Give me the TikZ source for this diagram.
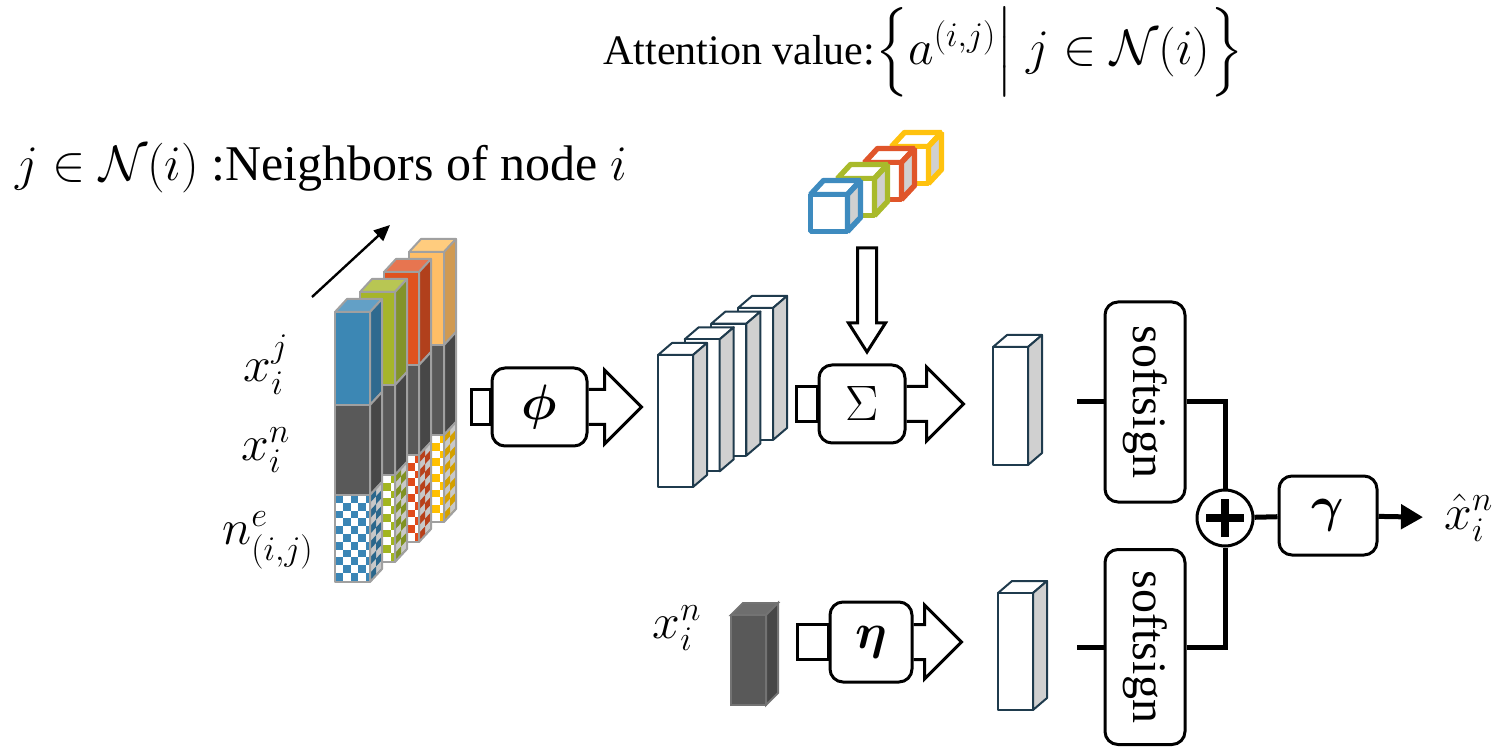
\documentclass[tikz,border=0pt]{standalone}
\usepackage{amsmath,bm}
\usepackage{fontspec}
\setmainfont{Liberation Serif}
\usetikzlibrary{arrows.meta,calc}
\pgfdeclarelayer{background}
\pgfsetlayers{background,main}

% stacked neighbour bars
\definecolor{bluefront}{HTML}{3C87B4}
\definecolor{blueside}{HTML}{2F6A8F}
\definecolor{bluetop}{HTML}{63A0C6}
\definecolor{bluechk}{HTML}{3A85B5}
\definecolor{bluechks}{HTML}{2A678C}
\definecolor{grnfront}{HTML}{A6B52A}
\definecolor{grnside}{HTML}{83932A}
\definecolor{grntop}{HTML}{B8C653}
\definecolor{grnchk}{HTML}{A2B520}
\definecolor{grnchks}{HTML}{809222}
\definecolor{redfront}{HTML}{E0521F}
\definecolor{redside}{HTML}{B1401C}
\definecolor{redtop}{HTML}{E77550}
\definecolor{redchk}{HTML}{E04A1A}
\definecolor{redchks}{HTML}{B8401A}
\definecolor{orgfront}{HTML}{FFBE66}
\definecolor{orgside}{HTML}{D09A52}
\definecolor{orgtop}{HTML}{FFCC7E}
\definecolor{orgchk}{HTML}{FFC000}
\definecolor{orgchks}{HTML}{D4A000}
\definecolor{gfront}{HTML}{595959}
\definecolor{gside}{HTML}{474747}
\definecolor{gtop}{HTML}{6E6E6E}
\definecolor{edgegray}{HTML}{A0A0A0}
\definecolor{chkside}{HTML}{C8C8C8}
% feature bars and attention cubes
\definecolor{navy}{HTML}{1F3B4D}
\definecolor{wside}{HTML}{D0D0D0}
\definecolor{cblue}{HTML}{3E8BBF}
\definecolor{cgreen}{HTML}{A9BA2B}
\definecolor{cred}{HTML}{E0552A}
\definecolor{cyellow}{HTML}{FFC20E}

\tikzset{
  baredge/.style={draw=edgegray, line width=1pt, line join=round},
  wedge/.style={draw=navy, line width=1pt, line join=round},
  blk/.style={draw=black, line width=1.5pt, line join=miter},
  procbox/.style={draw=black, fill=white, line width=1.5pt, rounded corners=6.5pt, inner sep=0pt},
  wire/.style={draw=black, line width=2.5pt},
  mlabel/.style={font=\fontsize{26}{30}\selectfont, inner sep=0pt},
}

% one neighbour column: X, Y, front, side, top, checker front, checker side
\newcommand\colbar[7]{%
 \begin{scope}[shift={(#1,#2)}]
  \draw[baredge,fill=#5] (0,0) -- (12,-13) -- (47,-13) -- (35,0) -- cycle;
  \draw[baredge,fill=#3] (0,0) rectangle (35,93);
  \draw[baredge,fill=#4] (35,0) -- (47,-13) -- (47,80) -- (35,93) -- cycle;
  \draw[baredge,fill=gfront] (0,93) rectangle (35,183);
  \draw[baredge,fill=gside] (35,93) -- (47,80) -- (47,170) -- (35,183) -- cycle;
  \begin{scope}
   \clip (0,183) rectangle (35,270);
   \fill[white] (0,183) rectangle (35,270);
   \foreach \rr in {0,...,11}{\foreach \cc in {0,...,4}{%
     \pgfmathtruncatemacro\odd{mod(\rr+\cc,2)}%
     \ifnum\odd=0 \fill[#6] ({\cc*7.8},{183+\rr*7.8}) rectangle ++(7.8,7.8);\fi}}
  \end{scope}
  \begin{scope}
   \clip (35,183) -- (47,170) -- (47,257) -- (35,270) -- cycle;
   \fill[chkside] (35,165) rectangle (47,272);
   \foreach \rr in {-1,...,11}{\foreach \cc in {0,1}{%
     \pgfmathtruncatemacro\odd{mod(\rr+\cc+10,2)}%
     \ifnum\odd=0 \fill[#7] ({35+\cc*6},{183+\rr*7.8-\cc*6.5}) -- ++(6,-6.5) -- ++(0,7.8) -- ++(-6,6.5) -- cycle;\fi}}
  \end{scope}
  \draw[baredge] (0,183) rectangle (35,270);
  \draw[baredge] (35,183) -- (47,170) -- (47,257) -- (35,270) -- cycle;
 \end{scope}}

% white feature bar: X, Y, height
\newcommand\wbar[3]{%
 \draw[wedge,fill=white] (#1,#2) -- ++(14,-12) -- ++(35,0) -- ++(-14,12) -- cycle;
 \draw[wedge,fill=white] (#1,#2) rectangle ++(35,#3);
 \draw[wedge,fill=wside] (#1+35,#2) -- ++(14,-12) -- ++(0,#3) -- ++(-14,12) -- cycle;}

% hollow attention cube: X, Y, colour
\newcommand\acube[3]{%
 \begin{scope}[shift={(#1,#2)}, line join=bevel]
  \draw[draw=#3,line width=2.7pt,fill=white] (2.5,2.5) -- (15.5,-11.5) -- (52.5,-11.5) -- (39.5,2.5) -- cycle;
  \draw[draw=#3,line width=2.7pt,fill=white] (2.5,2.5) rectangle (39.5,39.5);
  \draw[draw=#3,line width=2.7pt,fill=wside] (39.5,2.5) -- (52.5,-11.5) -- (52.5,25.5) -- (39.5,39.5) -- cycle;
 \end{scope}}

% operator block with input stub and block output arrow:
% name, cx, cy, box w, box h, stub length, shaft length, label
\newcommand\pblock[8]{%
 \node[procbox, minimum width=#4*0.5pt, minimum height=#5*0.5pt] (#1) at (#2,#3) {#8};
 \begin{pgfonlayer}{background}
  \draw[blk,fill=white] ([xshift=-#6*0.5pt,yshift=-8.75pt]#1.west) rectangle ([yshift=8.75pt]#1.west);
  \draw[blk,fill=white] ([yshift=8.75pt]#1.east) -- ++(#7,0) -- ++(0,-19.5) -- ++(37,37) -- ++(-37,37) -- ++(0,-19.5) -- ++(-#7,0);
 \end{pgfonlayer}}

\begin{document}
\begin{tikzpicture}[x=0.5pt,y=-0.5pt]
\useasboundingbox (0,0) rectangle (1499,748);

% captions
\node[inner sep=0pt, anchor=west, font=\fontsize{21}{25}\selectfont] (title) at (603,52)
  {Attention value:{\fontsize{26}{30}\selectfont$\Bigl\{a^{(i,j)}\Bigr|\;j\in\mathcal{N}(i)\Bigr\}$}};
\node[inner sep=0pt, anchor=west, font=\fontsize{25}{29}\selectfont] (nbr) at (15,168)
  {$j\in\mathcal{N}(i)$ :Neighbors of node $i$};

% neighbour feature columns, back to front
\colbar{409}{252}{orgfront}{orgside}{orgtop}{orgchk}{orgchks}
\colbar{384}{272}{redfront}{redside}{redtop}{redchk}{redchks}
\colbar{360}{292}{grnfront}{grnside}{grntop}{grnchk}{grnchks}
\colbar{335}{312}{bluefront}{blueside}{bluetop}{bluechk}{bluechks}

\coordinate (dirA) at (312,297);
\coordinate (dirB) at (390,225);
\draw[line width=1.2pt, -{Triangle[length=8pt,width=7pt]}] (dirA) -- (dirB);

\node[mlabel] (lxj) at (266,365) {$x_i^j$};
\node[mlabel] (lxn) at (266,450) {$x_i^n$};
\node[mlabel] (lne) at (268,540) {$n_{(i,j)}^e$};

% phi and its outputs
\pblock{phi}{539.5}{407}{95}{78}{19}{16}{\fontsize{27}{30}\selectfont$\bm{\phi}$}
\foreach \k in {3,2,1,0}{\wbar{658+26.7*\k}{355-15.7*\k}{132}}

% attention cubes
\acube{889}{144}{cyellow}
\acube{862}{160}{cred}
\acube{835}{176}{cgreen}
\acube{808}{192}{cblue}

% aggregation
\pblock{sig}{862}{404}{86}{78}{21}{20}{\fontsize{24}{28}\selectfont$\Sigma$}
\coordinate (att) at (867,248);
\draw[blk,fill=white] (att) ++(-9.5,0) -- ++(19,0) -- ++(0,75) -- ++(9,0) -- ++(-18.5,29) -- ++(-18.5,-29) -- ++(9,0) -- cycle;
\wbar{993}{347}{118}

% self branch
\node[mlabel] (lxn2) at (677,628) {$x_i^n$};
\draw[draw=gray!90!black, line width=1pt, fill=gtop] (731,615) -- ++(12,-12) -- ++(35,0) -- ++(-12,12) -- cycle;
\draw[draw=gray!90!black, line width=1pt, fill=gfront] (731,615) rectangle ++(35,90);
\draw[draw=gray!90!black, line width=1pt, fill=gside] (766,615) -- ++(12,-12) -- ++(0,90) -- ++(-12,12) -- cycle;
\pblock{eta}{871}{642}{82}{80}{31}{11}{\fontsize{27}{30}\selectfont$\bm{\eta}$}
\wbar{998}{593}{117}

% softsign gates, sum and update
\node[procbox, rotate=-90, minimum width=100pt, minimum height=40pt, font=\fontsize{24}{28}\selectfont] (ss1) at (1145,402) {softsign};
\node[procbox, rotate=-90, minimum width=97.5pt, minimum height=40pt, font=\fontsize{24}{28}\selectfont] (ss2) at (1145,647) {softsign};
\coordinate (in1) at (1077,402);
\coordinate (in2) at (1077,647);
\node[draw, circle, fill=white, line width=1.5pt, minimum size=28pt, inner sep=0pt] (plus) at (1225,518) {};
\draw[line width=4pt] ([xshift=-9.5pt]plus.center) -- ([xshift=9.5pt]plus.center);
\draw[line width=4pt] ([yshift=-9.5pt]plus.center) -- ([yshift=9.5pt]plus.center);
\node[procbox, minimum width=49pt, minimum height=39.5pt, font=\fontsize{27}{30}\selectfont] (gam) at (1328,515.5) {$\bm{\gamma}$};
\node[mlabel, anchor=west] (out) at (1444,518) {$\hat{x}_i^n$};

\draw[wire] (in1) -- (ss1.south);
\draw[wire] (in2) -- (ss2.south);
\draw[wire] (ss1.north) -| (plus);
\draw[wire] (ss2.north) -| (plus);
\draw[wire] (plus) -- (gam);
\draw[wire, -{Triangle[length=11pt,width=12pt]}, shorten >=10.5pt] (gam) -- (out);
\end{tikzpicture}
\end{document}
